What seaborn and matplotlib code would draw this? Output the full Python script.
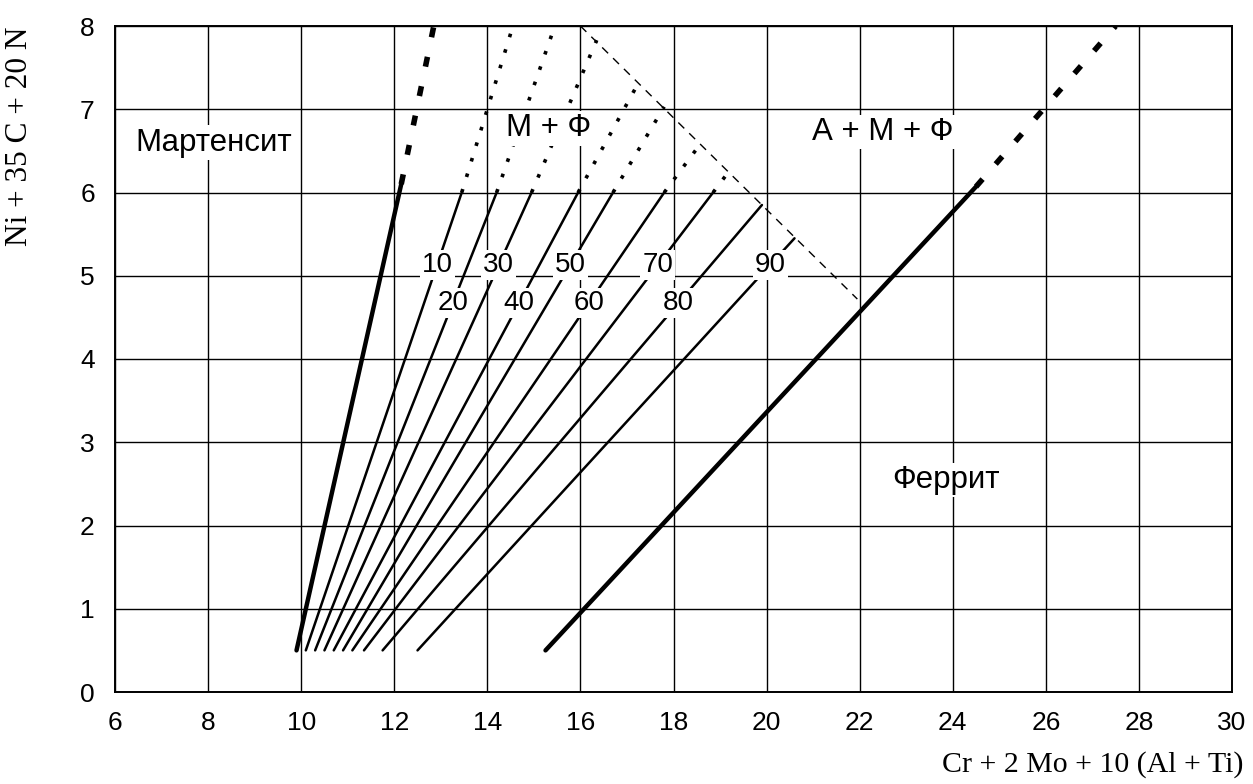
import matplotlib
matplotlib.use("Agg")
import matplotlib.pyplot as plt
import seaborn as sns

# ---- data ----
x_ticks = list(range(6, 31, 2))
y_ticks = list(range(0, 9))

ferrite_pct = [10, 20, 30, 40, 50, 60, 70, 80, 90]
iso_x_start = [10.1, 10.3, 10.5, 10.7, 10.9, 11.1, 11.35, 11.75, 12.5]
iso_y_start = [0.5, 0.5, 0.5, 0.5, 0.5, 0.5, 0.5, 0.5, 0.5]
iso_x_end = [13.45, 14.2, 14.95, 15.95, 16.7, 17.8, 18.85, 19.9, 20.6]
iso_y_end = [6.0, 6.0, 6.0, 6.0, 6.0, 6.0, 6.0, 5.85, 5.45]

# dotted continuations above 6 (for the first seven lines)
dot_x_end = [14.55, 15.45, 16.35, 17.25, 17.8, 18.6, 19.2]
dot_y_end = [8.0, 8.0, 7.83, 7.32, 7.03, 6.6, 6.26]

pct_label_y = [5.13, 4.67, 5.13, 4.67, 5.13, 4.67, 5.13, 4.67, 5.13]

mart_x = [9.9, 12.15, 12.85]
mart_y = [0.5, 6.1, 8.0]
ferr_x = [15.25, 24.5, 27.5]
ferr_y = [0.5, 6.07, 8.0]
bound_x = [16.0, 21.95]
bound_y = [8.0, 4.72]

regions = ["Мартенсит", "М + Ф", "А + М + Ф", "Феррит"]
region_x = [8.13, 15.31, 22.5, 23.85]
region_y = [6.6, 6.77, 6.73, 2.55]

x_title = "Cr + 2 Mo + 10 (Al + Ti)"
y_title = "Ni + 35 C + 20 N"

# ---- style ----
sns.set_theme(style="white")
plt.rcParams['font.family'] = ['Liberation Sans', 'DejaVu Sans']

fig = plt.figure(figsize=(12.53, 7.84), dpi=100)
ax = fig.add_axes([115 / 1253, 1 - 692 / 784, (1232 - 115) / 1253, (692 - 26) / 784])

ax.set_xlim(6, 30)
ax.set_ylim(0, 8)
ax.set_xticks(x_ticks)
ax.set_yticks(y_ticks)
ax.tick_params(axis='both', direction='inout', length=9, width=1.2, color='black',
               labelsize=19, labelcolor='black')
ax.tick_params(axis='x', pad=9)
ax.tick_params(axis='y', pad=10)
ax.grid(True, color='black', linewidth=1.0)
ax.set_axisbelow(True)
for s in ax.spines.values():
    s.set_color('black')
    s.set_linewidth(1.4)

# iso-ferrite lines (solid)
for i in range(len(ferrite_pct)):
    sns.lineplot(x=[iso_x_start[i], iso_x_end[i]], y=[iso_y_start[i], iso_y_end[i]],
                 ax=ax, color='black', linewidth=1.8, sort=False, estimator=None, zorder=3)
# dotted continuations
for i in range(len(dot_x_end)):
    sns.lineplot(x=[iso_x_end[i], dot_x_end[i]], y=[iso_y_end[i], dot_y_end[i]],
                 ax=ax, color='black', linewidth=2.6, sort=False, estimator=None,
                 linestyle=(0, (1, 3.5)), zorder=3)

# martensite boundary
sns.lineplot(x=mart_x[:2], y=mart_y[:2], ax=ax, color='black', linewidth=3.2,
             sort=False, estimator=None, zorder=3)
sns.lineplot(x=mart_x[1:], y=mart_y[1:], ax=ax, color='black', linewidth=4,
             sort=False, estimator=None, linestyle=(0, (1.8, 3.6)), zorder=3)
# ferrite boundary
sns.lineplot(x=ferr_x[:2], y=ferr_y[:2], ax=ax, color='black', linewidth=3.2,
             sort=False, estimator=None, zorder=3)
sns.lineplot(x=ferr_x[1:], y=ferr_y[1:], ax=ax, color='black', linewidth=4,
             sort=False, estimator=None, linestyle=(0, (1.8, 3.6)), zorder=3)
# upper boundary of M+F region
sns.lineplot(x=bound_x, y=bound_y, ax=ax, color='black', linewidth=1.0,
             sort=False, estimator=None, linestyle=(0, (6, 5)), zorder=3)

# percentage labels on lines
for i, p in enumerate(ferrite_pct):
    ly = pct_label_y[i]
    t = (ly - iso_y_start[i]) / (iso_y_end[i] - iso_y_start[i])
    lx = iso_x_start[i] + t * (iso_x_end[i] - iso_x_start[i])
    ax.text(lx, ly, str(p), ha='center', va='center', fontsize=20, color='black', zorder=5,
            bbox=dict(facecolor='white', edgecolor='none', pad=1.5))

for name, rx, ry in zip(regions, region_x, region_y):
    ax.text(rx, ry, name, ha='center', va='center', fontsize=22.5, color='black', zorder=5,
            bbox=dict(facecolor='white', edgecolor='none', pad=1.5))

ax.set_xlabel('')
ax.set_ylabel('')
fig.text(1243 / 1253, 1 - 765 / 784, x_title, ha='right', va='center', fontsize=21.5,
         family=['Liberation Serif', 'DejaVu Serif'], color='black')
fig.text(20 / 1253, 1 - 26 / 784, y_title, ha='center', va='top', rotation=90, fontsize=22.5,
         family=['Liberation Serif', 'DejaVu Serif'], color='black')

fig.savefig('out.png', dpi=100, facecolor='white')
